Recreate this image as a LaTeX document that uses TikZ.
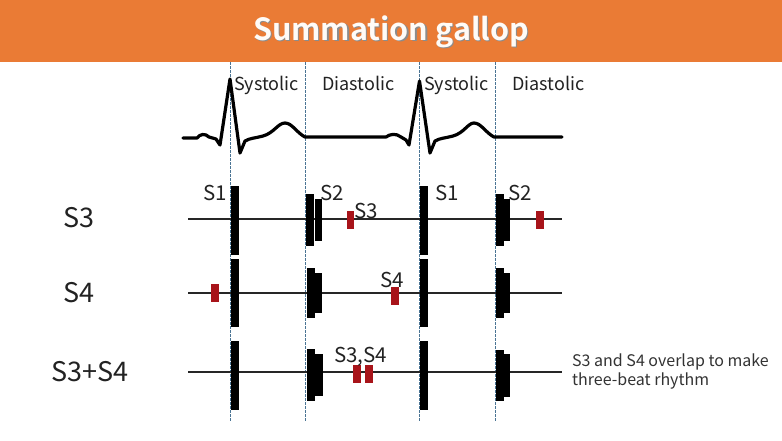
\documentclass[tikz,border=0pt]{standalone}
\usepackage{fontspec}
\setmainfont{Noto Sans CJK JP}
\newfontfamily\titlefont{Noto Sans CJK JP}[BoldFont=* Bold]
\definecolor{orangebar}{HTML}{EA7B35}
\definecolor{heartred}{HTML}{A8141A}
\definecolor{dashblue}{HTML}{4A7494}
\definecolor{txt}{HTML}{222222}
\begin{document}
\begin{tikzpicture}[x=1pt,y=-1pt,
  lbl/.style={inner sep=0pt,anchor=base west,text=txt},
  phase/.style={lbl,font=\fontsize{18}{21}\selectfont},
  rowlbl/.style={lbl,font=\fontsize{27}{30}\selectfont},
  snd/.style={lbl,font=\fontsize{20.5}{23}\selectfont},
  note/.style={lbl,font=\fontsize{16}{19}\selectfont,text=black!80},
  divider/.style={dashblue,line width=0.8pt,dash pattern=on 2.5pt off 1.5pt},
  rowline/.style={black!85,line width=1.2pt},
  ecg/.style={black,line width=3.2pt,line join=round,line cap=round},
  heart/.style={fill=black,draw=none},
  extra/.style={fill=heartred,draw=none}]
\useasboundingbox (0,0) rectangle (782,440);
\fill[white] (0,0) rectangle (782,440);
% title bar
\fill[orangebar] (0,0) rectangle (782,62);
\node[inner sep=0pt,anchor=base,text=black!45,font=\titlefont\bfseries\fontsize{30.5}{34}\selectfont] at (392.2,41.2) {Summation gallop};
\node[inner sep=0pt,anchor=base,text=white!97!orange,font=\titlefont\bfseries\fontsize{30.5}{34}\selectfont] (title) at (391,40) {Summation gallop};
% dividers
\coordinate (d1t) at (230,62); \coordinate (d1b) at (230,421);
\coordinate (d2t) at (305,62); \coordinate (d2b) at (305,421);
\coordinate (d3t) at (419.5,62); \coordinate (d3b) at (419.5,421);
\coordinate (d4t) at (495,62); \coordinate (d4b) at (495,421);
\draw[divider] (d1t) -- (d1b);
\draw[divider] (d2t) -- (d2b);
\draw[divider] (d3t) -- (d3b);
\draw[divider] (d4t) -- (d4b);
% phase labels
\node[phase] (sys1) at (234,90) {Systolic};
\node[phase] (dia1) at (322,90) {Diastolic};
\node[phase] (sys2) at (424,90) {Systolic};
\node[phase] (dia2) at (512,90) {Diastolic};
% ECG
\draw[ecg] (183,138) -- (197,138) .. controls (200,134) and (205,133) .. (209,137)
  -- (216,139) -- (220,145) -- (230,79) -- (240,153) -- (245,141)
  .. controls (250,138) and (256,138) .. (263,136)
  .. controls (274,133) and (278,123) .. (285,123)
  .. controls (292,123) and (297,133) .. (305,137)
  -- (386,137) .. controls (390,134) and (396,133) .. (401,137)
  -- (406,140) -- (409,145) -- (419.5,81) -- (430,153) -- (435,141)
  .. controls (440,138) and (446,138) .. (453,136)
  .. controls (464,133) and (468,123) .. (474,123)
  .. controls (481,123) and (486,133) .. (494,137) -- (562,137);
% row lines
\coordinate (r1a) at (188,219); \coordinate (r1b) at (562,219);
\coordinate (r2a) at (188,293); \coordinate (r2b) at (562,293);
\coordinate (r3a) at (188,372); \coordinate (r3b) at (562,372);
\draw[rowline] (r1a) -- (r1b);
\draw[rowline] (r2a) -- (r2b);
\draw[rowline] (r3a) -- (r3b);
% row labels
\node[rowlbl] (lS3) at (63,227) {S3};
\node[rowlbl] (lS4) at (63,302) {S4};
\node[rowlbl] (lS34) at (51,381) {S3+S4};
% row 1
\fill[heart] (231,186) rectangle (239,255);
\fill[heart] (306,194) rectangle (314,246);
\fill[heart] (314.6,199) rectangle (322,241);
\fill[extra] (347,211) rectangle (354,229);
\fill[heart] (420,186) rectangle (428,255);
\fill[heart] (496,194) rectangle (504,246);
\fill[heart] (504,199) rectangle (510,241);
\fill[extra] (536,211) rectangle (544,229);
\node[snd] (s1a) at (203,200) {S1};
\node[snd] (s2a) at (320,200) {S2};
\node[snd] (s3a) at (354,218) {S3};
\node[snd] (s1b) at (435,200) {S1};
\node[snd] (s2b) at (508,200) {S2};
% row 2
\fill[extra] (211,284) rectangle (219,302);
\fill[heart] (231,259) rectangle (239,327);
\fill[heart] (307,268) rectangle (315,318);
\fill[heart] (315,273) rectangle (322,313);
\fill[extra] (391,287) rectangle (399,305);
\fill[heart] (420,259) rectangle (428,327);
\fill[heart] (496,268) rectangle (504,318);
\fill[heart] (504,273) rectangle (510,313);
\node[snd] (s4a) at (380,287) {S4};
% row 3
\fill[heart] (231,341) rectangle (239,410);
\fill[heart] (307,349) rectangle (315,401);
\fill[heart] (315,354) rectangle (323,396);
\fill[extra] (353,365) rectangle (361,383);
\fill[extra] (365,365) rectangle (373,383);
\fill[heart] (420,341) rectangle (428,410);
\fill[heart] (496,350) rectangle (504,401);
\fill[heart] (504,354) rectangle (510,397);
\node[snd] (s34) at (334,362) {S3,S4};
% note
\node[note] (n1) at (572,366.5) {S3 and S4 overlap to make};
\node[note] (n2) at (572,385) {three-beat rhythm};
\end{tikzpicture}
\end{document}
